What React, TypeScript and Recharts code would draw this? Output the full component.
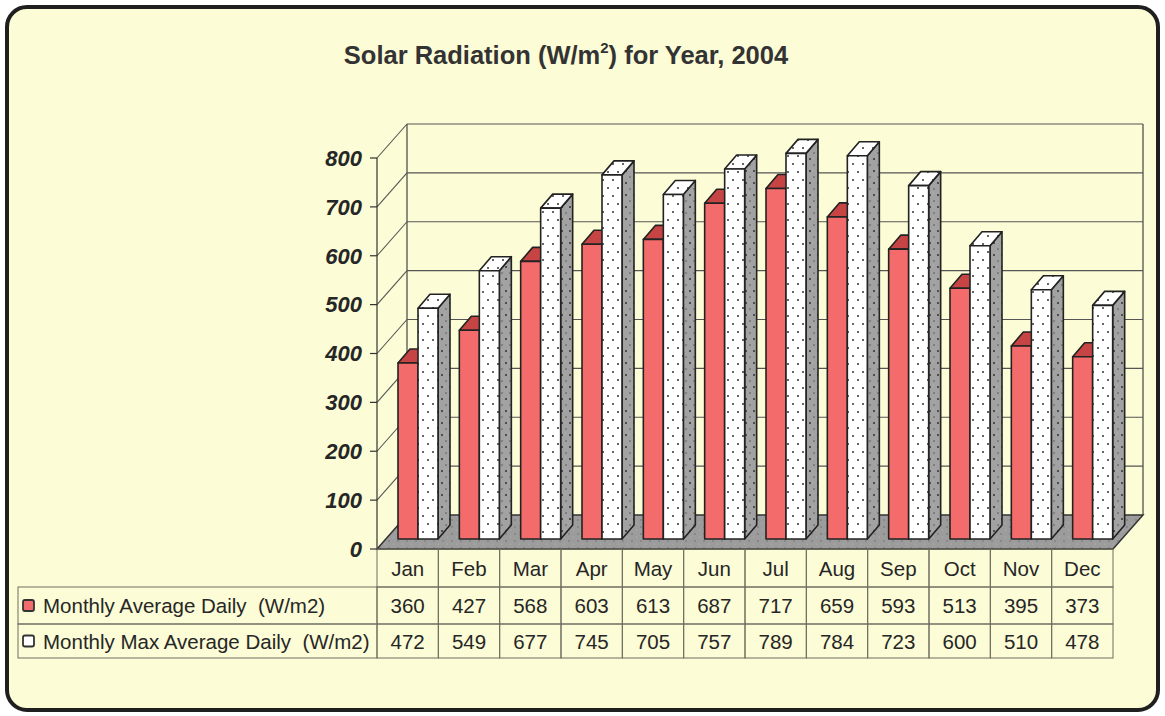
import React from 'react';
import { Bar, BarChart, CartesianGrid, XAxis, YAxis } from 'recharts';

const MONTHS = ['Jan', 'Feb', 'Mar', 'Apr', 'May', 'Jun', 'Jul', 'Aug', 'Sep', 'Oct', 'Nov', 'Dec'];
const AVG_DAILY = [360, 427, 568, 603, 613, 687, 717, 659, 593, 513, 395, 373];
const MAX_AVG_DAILY = [472, 549, 677, 745, 705, 757, 789, 784, 723, 600, 510, 478];
const Y_TICKS = [0, 100, 200, 300, 400, 500, 600, 700, 800];
const SERIES_NAMES = ['Monthly Average Daily  (W/m2)', 'Monthly Max Average Daily  (W/m2)'];

const data = MONTHS.map((month, i) => ({ month, avg: AVG_DAILY[i], max: MAX_AVG_DAILY[i] }));

const FONT = '"Liberation Sans", Arial, Helvetica, sans-serif';
const BG = '#fcfcd6';
const INK = '#262626';
const TABLE_LINE = '#6f6f60';
// depth of the back wall and of the bars (3d look)
const WALL_DX = 30;
const WALL_DY = -34;
const BAR_SHIFT_X = 10;
const BAR_SHIFT_Y = -10;
const BAR_DX = 12;
const BAR_DY = -14;
const COL_W = 736 / 12;
const ROW_H = [38, 37, 34];

function WallLine(props: any) {
  const { x1, y1, x2, index } = props;
  const bottom = props.y != null && props.height != null ? props.y + props.height : null;
  const top = props.y != null ? props.y : null;
  const isFloor = bottom != null ? Math.abs(y1 - bottom) < 1 : index === 0;
  if (isFloor) {
    const topY = top != null ? top : y1 - 391;
    return (
      <g>
        <line x1={x1 + WALL_DX} y1={topY + WALL_DY} x2={x1 + WALL_DX} y2={y1 + WALL_DY} stroke="#444" strokeWidth={1.2} />
        <line x1={x2 + WALL_DX} y1={topY + WALL_DY} x2={x2 + WALL_DX} y2={y1 + WALL_DY} stroke="#444" strokeWidth={1.2} />
        <polygon
          points={`${x1},${y1} ${x1 + WALL_DX},${y1 + WALL_DY} ${x2 + WALL_DX},${y1 + WALL_DY} ${x2},${y1}`}
          fill="url(#floorSpeckle)"
          stroke="#333"
          strokeWidth={1.5}
        />
      </g>
    );
  }
  return (
    <g>
      <line x1={x1} y1={y1} x2={x1 + WALL_DX} y2={y1 + WALL_DY} stroke="#555" strokeWidth={1.1} />
      <line x1={x1 + WALL_DX} y1={y1 + WALL_DY} x2={x2 + WALL_DX} y2={y1 + WALL_DY} stroke="#555" strokeWidth={1.1} />
    </g>
  );
}

function Bar3D(props: any) {
  const { x, y, width, height, kind } = props;
  if (x == null || y == null || !width || height == null) return null;
  const isAvg = kind === 'avg';
  const fx = x + BAR_SHIFT_X;
  const fy = y + BAR_SHIFT_Y;
  const b = fy + height;
  const r = fx + width;
  return (
    <g stroke="#222" strokeWidth={1.6} strokeLinejoin="round">
      <polygon
        points={`${r},${fy} ${r + BAR_DX},${fy + BAR_DY} ${r + BAR_DX},${b + BAR_DY} ${r},${b}`}
        fill={isAvg ? '#b13838' : 'url(#dotsGray)'}
      />
      <polygon
        points={`${fx},${fy} ${fx + BAR_DX},${fy + BAR_DY} ${r + BAR_DX},${fy + BAR_DY} ${r},${fy}`}
        fill={isAvg ? '#c74444' : 'url(#dotsWhite)'}
      />
      <rect x={fx} y={fy} width={width} height={height} fill={isAvg ? '#f46b6b' : 'url(#dotsWhite)'} />
    </g>
  );
}

function TableColumn(props: any) {
  const { x, y, payload } = props;
  const i = MONTHS.indexOf(payload.value);
  const left = x - COL_W / 2;
  const r1 = y + ROW_H[0];
  const r2 = r1 + ROW_H[1];
  const txt = { fontFamily: FONT, fontSize: 20.5, fill: INK, style: { whiteSpace: 'pre' as const } };
  return (
    <g>
      <rect x={left} y={y} width={COL_W} height={ROW_H[0]} fill="none" stroke={TABLE_LINE} />
      <rect x={left} y={r1} width={COL_W} height={ROW_H[1]} fill="none" stroke={TABLE_LINE} />
      <rect x={left} y={r2} width={COL_W} height={ROW_H[2]} fill="none" stroke={TABLE_LINE} />
      <text x={x} y={y + ROW_H[0] / 2} textAnchor="middle" dominantBaseline="central" {...txt}>
        {payload.value}
      </text>
      <text x={x} y={r1 + ROW_H[1] / 2} textAnchor="middle" dominantBaseline="central" {...txt}>
        {AVG_DAILY[i]}
      </text>
      <text x={x} y={r2 + ROW_H[2] / 2} textAnchor="middle" dominantBaseline="central" {...txt}>
        {MAX_AVG_DAILY[i]}
      </text>
      {i === 0 && (
        <g>
          <rect x={18} y={r1} width={left - 18} height={ROW_H[1]} fill="none" stroke={TABLE_LINE} />
          <rect x={18} y={r2} width={left - 18} height={ROW_H[2]} fill="none" stroke={TABLE_LINE} />
          <rect x={23} y={r1 + ROW_H[1] / 2 - 5.5} width={11} height={11} rx={2} fill="#f46b6b" stroke="#333" strokeWidth={1.8} />
          <rect x={23} y={r2 + ROW_H[2] / 2 - 5.5} width={11} height={11} rx={2} fill="#fff" stroke="#333" strokeWidth={1.8} />
          <text x={43} y={r1 + ROW_H[1] / 2} dominantBaseline="central" {...txt}>
            {SERIES_NAMES[0]}
          </text>
          <text x={43} y={r2 + ROW_H[2] / 2} dominantBaseline="central" {...txt}>
            {SERIES_NAMES[1]}
          </text>
        </g>
      )}
    </g>
  );
}

export default function App() {
  return (
    <div style={{ position: 'absolute', left: 0, top: 0, width: 1165, height: 716, background: '#fff' }}>
      <svg width={0} height={0} style={{ position: 'absolute' }}>
        <defs>
          <pattern id="dotsWhite" width={10} height={16} patternUnits="userSpaceOnUse">
            <rect width={10} height={16} fill="#fff" />
            <circle cx={3} cy={4} r={1} fill="#333" />
            <circle cx={8} cy={12} r={1} fill="#333" />
          </pattern>
          <pattern id="dotsGray" width={8} height={12} patternUnits="userSpaceOnUse">
            <rect width={8} height={12} fill="#a2a2a2" />
            <circle cx={2} cy={3} r={1} fill="#333" />
            <circle cx={6} cy={9} r={0.8} fill="#555" />
            <circle cx={5} cy={2} r={0.6} fill="#bbb" />
          </pattern>
          <pattern id="floorSpeckle" width={9} height={7} patternUnits="userSpaceOnUse">
            <rect width={9} height={7} fill="#9c9c9c" />
            <circle cx={2} cy={2} r={0.7} fill="#666" />
            <circle cx={6.5} cy={5} r={0.6} fill="#b8b8b8" />
          </pattern>
        </defs>
      </svg>
      <div
        style={{
          position: 'absolute',
          left: 5,
          top: 5,
          width: 1155,
          height: 707,
          boxSizing: 'border-box',
          border: '4px solid #1f1f1f',
          borderRadius: 22,
          background: BG,
        }}
      />
      <div
        style={{
          position: 'absolute',
          left: 0,
          top: 40,
          width: 1132,
          textAlign: 'center',
          fontFamily: FONT,
          fontWeight: 'bold',
          fontSize: 25.5,
          lineHeight: '30px',
          color: '#333',
        }}
      >
        Solar Radiation (W/m
        <span style={{ fontSize: 15, position: 'relative', top: -11 }}>2</span>) for Year, 2004
      </div>
      <div style={{ position: 'absolute', left: 0, top: 0 }}>
        <BarChart
          width={1165}
          height={716}
          data={data}
          margin={{ top: 158, right: 52, bottom: 57, left: 0 }}
          barGap={0}
          barSize={20}
        >
          <CartesianGrid vertical={false} horizontal={WallLine} />
          <XAxis
            dataKey="month"
            height={110}
            axisLine={false}
            tickLine={false}
            tickSize={0}
            tickMargin={0}
            interval={0}
            tick={TableColumn}
          />
          <YAxis
            width={377}
            domain={[0, 800]}
            ticks={Y_TICKS}
            tickSize={7}
            tickMargin={8}
            axisLine={{ stroke: '#333', strokeWidth: 1.2 }}
            tickLine={{ stroke: '#333', strokeWidth: 1.2 }}
            tick={{ fill: INK, fontSize: 22, fontWeight: 'bold', fontStyle: 'italic', fontFamily: FONT }}
          />
          <Bar dataKey="avg" name={SERIES_NAMES[0]} isAnimationActive={false} shape={(p: any) => <Bar3D {...p} kind="avg" />} />
          <Bar dataKey="max" name={SERIES_NAMES[1]} isAnimationActive={false} shape={(p: any) => <Bar3D {...p} kind="max" />} />
        </BarChart>
      </div>
    </div>
  );
}
